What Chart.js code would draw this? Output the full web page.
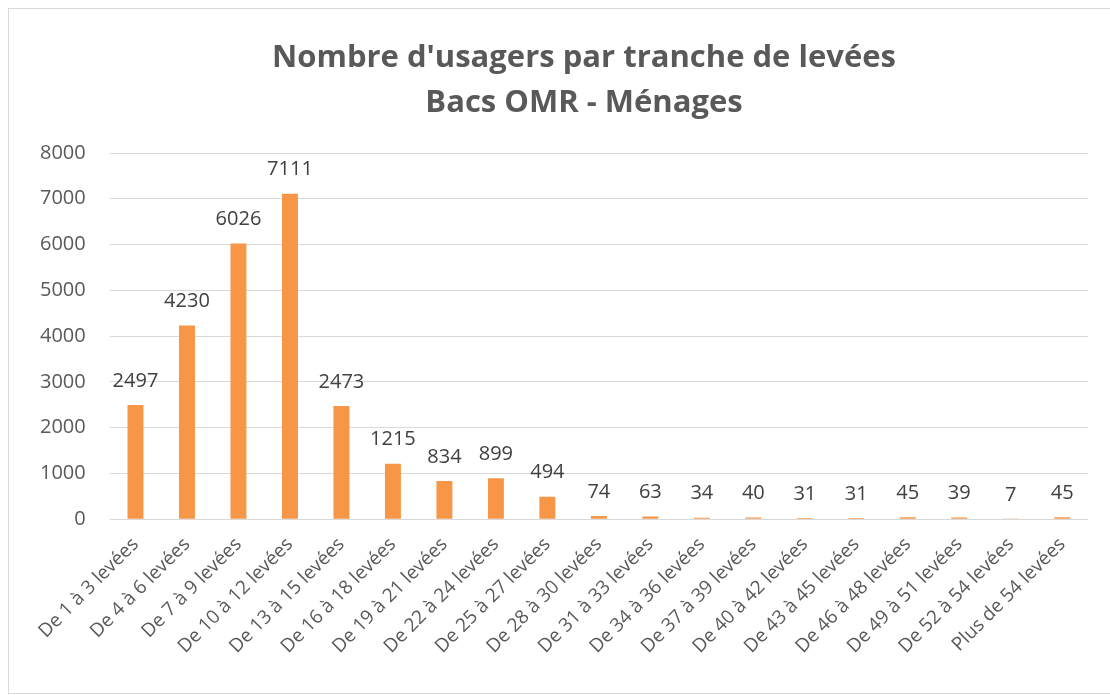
<!DOCTYPE html>
<html>
<head>
<meta charset="utf-8">
<script src="https://cdn.jsdelivr.net/npm/chart.js@4/dist/chart.umd.min.js"></script>
<style>
  html,body{margin:0;padding:0;background:#fff;}
  .box{position:absolute;left:8px;top:8px;width:1110px;height:686px;border:1px solid #d9d9d9;box-sizing:border-box;}
  #chart{position:absolute;left:0;top:0;}
</style>
</head>
<body>
<div class="box"><canvas id="chart" width="1108" height="684"></canvas></div>
<script>
const categories = ['De 1 à 3 levées','De 4 à 6 levées','De 7 à 9 levées','De 10 à 12 levées','De 13 à 15 levées',
  'De 16 à 18 levées','De 19 à 21 levées','De 22 à 24 levées','De 25 à 27 levées','De 28 à 30 levées',
  'De 31 à 33 levées','De 34 à 36 levées','De 37 à 39 levées','De 40 à 42 levées','De 43 à 45 levées',
  'De 46 à 48 levées','De 49 à 51 levées','De 52 à 54 levées','Plus de 54 levées'];
const usagers = [2497,4230,6026,7111,2473,1215,834,899,494,74,63,34,40,31,31,45,39,7,45];
const titleLines = ["Nombre d'usagers par tranche de levées",'Bacs OMR - Ménages'];

const FONT = 'Open Sans, Lato, sans-serif';

// values written above each bar
const barValues = {
  id:'barValues',
  afterDatasetsDraw(chart){
    const ctx = chart.ctx;
    const meta = chart.getDatasetMeta(0);
    ctx.save();
    ctx.font = '20px ' + FONT;
    ctx.fillStyle = '#404040';
    ctx.textAlign = 'center';
    ctx.textBaseline = 'middle';
    meta.data.forEach((bar,i)=>{
      ctx.fillText(String(usagers[i]), bar.x, bar.y - 24);
    });
    ctx.restore();
  }
};

// two-line title, centred a little right of the canvas centre like the original
const titleDraw = {
  id:'titleDraw',
  afterDraw(chart){
    const ctx = chart.ctx;
    ctx.save();
    ctx.font = 'bold 31px ' + FONT;
    ctx.fillStyle = '#595959';
    ctx.textAlign = 'center';
    ctx.textBaseline = 'middle';
    titleLines.forEach((t,i)=>ctx.fillText(t, 575, 49 + i*45));
    ctx.restore();
  }
};

new Chart(document.getElementById('chart').getContext('2d'),{
  type:'bar',
  data:{
    labels:categories,
    datasets:[{data:usagers,backgroundColor:'#f79646',barPercentage:0.31,categoryPercentage:1}]
  },
  options:{
    responsive:false,
    animation:false,
    layout:{padding:{left:7,right:29,top:144,bottom:29}},
    plugins:{
      legend:{display:false},
      tooltip:{enabled:false},
      title:{display:false}
    },
    scales:{
      y:{min:0,max:8000,
        ticks:{stepSize:1000,color:'#595959',font:{family:FONT,size:20},padding:24,callback:v=>String(v)},
        grid:{color:'#d9d9d9',drawTicks:false},
        border:{display:false}},
      x:{grid:{display:false},border:{display:false},
        ticks:{color:'#595959',font:{family:FONT,size:19},minRotation:45,maxRotation:45,padding:6,autoSkip:false}}
    }
  },
  plugins:[barValues,titleDraw]
});
</script>
</body>
</html>
